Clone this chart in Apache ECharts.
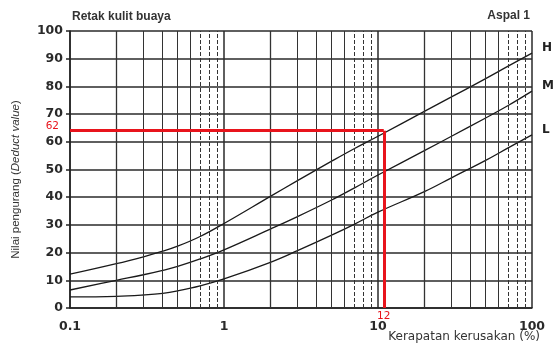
<!DOCTYPE html>
<html>
<head>
<meta charset="utf-8">
<script src="https://cdn.jsdelivr.net/npm/echarts@6/dist/echarts.min.js"></script>
<style>html,body{margin:0;padding:0;background:#fff}#c{width:558px;height:345px}</style>
</head>
<body>
<div id="c"></div>
<script>
// ---- data ----
const density = [0.1, 0.2, 0.3, 0.4, 0.5, 0.7, 1, 2, 3, 5, 7, 10, 20, 30, 50, 70, 100];
const highSeverity   = [12.2, 16, 18.5, 20.5, 22.3, 25.8, 30.5, 40.3, 46, 53, 57.5, 62, 71, 76.2, 82.8, 87.3, 92];
const mediumSeverity = [6.5, 10, 12, 13.6, 15, 17.7, 21, 28.5, 33, 39, 43.3, 48, 56.8, 62, 68.6, 73.1, 78.3];
const lowSeverity    = [4, 4.2, 4.7, 5.3, 6.2, 8, 10.5, 16.5, 20.7, 26.3, 30.2, 34.6, 42, 47, 53.3, 57.8, 62.5];
const severityNames = ['H', 'M', 'L'];
const readDensity = 10.9;      // red guide line (density)
const readValue = 64;          // red guide line (deduct value)
const readLabels = ['62', '12'];
const xDecades = [0.1, 1, 10];
const minorMultipliers = [2, 3, 4, 5, 6, 7, 8, 9];

const pairs = arr => density.map((d, i) => [d, arr[i]]);

const minorLines = [];
xDecades.forEach(dec => minorMultipliers.forEach(m => {
  minorLines.push({
    xAxis: +(dec * m).toPrecision(3),
    lineStyle: { type: m >= 7 ? [4, 2] : 'solid', width: m === 2 ? 1.3 : 1 }
  });
}));

const curveSeries = [highSeverity, mediumSeverity, lowSeverity].map((arr, i) => ({
  name: severityNames[i],
  type: 'line',
  data: pairs(arr),
  smooth: 0.4,
  symbol: 'none',
  z: 3,
  lineStyle: { color: '#1a1a1a', width: 1.3 },
  endLabel: {
    show: true,
    formatter: '{a}',
    distance: 10,
    offset: [0, -5],
    fontFamily: 'DejaVu Sans',
    fontWeight: 'bold',
    fontSize: 12,
    color: '#222'
  }
}));

const chart = echarts.init(document.getElementById('c'), null, { renderer: 'canvas' });
chart.setOption({
  animation: false,
  backgroundColor: '#fff',
  grid: { left: 70, right: 26, top: 31, bottom: 37 },
  title: [
    { text: 'Retak kulit buaya', left: 72, top: 11, padding: 0,
      textStyle: { fontFamily: 'Liberation Sans', fontWeight: 'bold', fontSize: 12, color: '#333' } },
    { text: 'Aspal 1', right: 28, top: 10, padding: 0,
      textStyle: { fontFamily: 'Liberation Sans', fontWeight: 'bold', fontSize: 12, color: '#333' } },
    { text: 'Kerapatan kerusakan (%)', right: 18, top: 331, padding: 0,
      textStyle: { fontFamily: 'DejaVu Sans', fontWeight: 'normal', fontSize: 12, color: '#333' } }
  ],
  xAxis: {
    type: 'log',
    logBase: 10,
    min: 0.1,
    max: 100,
    axisLine: { show: true, lineStyle: { color: '#222', width: 1.5 } },
    axisTick: { show: false },
    splitLine: { show: true, lineStyle: { color: '#2a2a2a', width: 1.5 } },
    axisLabel: {
      margin: 12,
      fontFamily: 'DejaVu Sans', fontWeight: 'bold', fontSize: 12.5, color: '#2a2a2a',
      formatter: v => String(+v.toPrecision(3))
    }
  },
  yAxis: {
    type: 'value',
    min: 0,
    max: 100,
    interval: 10,
    name: '{a|Nilai pengurang (}{b|Deduct value}{a|)}',
    nameLocation: 'middle',
    nameGap: 48,
    nameTextStyle: {
      padding: [0, 0, 0, -20],
      rich: {
        a: { fontFamily: 'Liberation Sans', fontSize: 11.5, color: '#333' },
        b: { fontFamily: 'Liberation Sans', fontSize: 11.5, fontStyle: 'italic', color: '#333' }
      }
    },
    axisLine: { show: true, lineStyle: { color: '#222', width: 1.5 } },
    axisTick: { show: true, length: 4, lineStyle: { color: '#222', width: 1.5 } },
    splitLine: { show: true, lineStyle: { color: '#2a2a2a', width: 1.5 } },
    axisLabel: {
      margin: 7,
      fontFamily: 'DejaVu Sans', fontWeight: 'bold', fontSize: 12.5, color: '#2a2a2a'
    }
  },
  series: [
    {
      name: 'grid',
      type: 'line',
      data: [[0.1, null]],
      symbol: 'none',
      silent: true,
      z: 1,
      markLine: {
        silent: true,
        symbol: 'none',
        label: { show: false },
        lineStyle: { color: '#333' },
        data: minorLines
      }
    },
    ...curveSeries,
    {
      name: 'read',
      type: 'line',
      data: [[0.1, null]],
      symbol: 'none',
      silent: true,
      z: 5,
      markLine: {
        silent: true,
        symbol: 'none',
        lineStyle: { color: '#e8141c', width: 3, type: 'solid' },
        label: { color: '#e8141c', fontFamily: 'DejaVu Sans', fontSize: 10.5 },
        data: [
          [
            { coord: [0.1, readValue], label: { show: true, position: 'start', formatter: readLabels[0], distance: 11, offset: [0, -4] } },
            { coord: [readDensity, readValue] }
          ],
          [
            { coord: [readDensity, readValue] },
            { coord: [readDensity, 0], label: { show: true, position: 'end', formatter: readLabels[1], distance: 3 } }
          ]
        ]
      }
    }
  ]
});
</script>
</body>
</html>
